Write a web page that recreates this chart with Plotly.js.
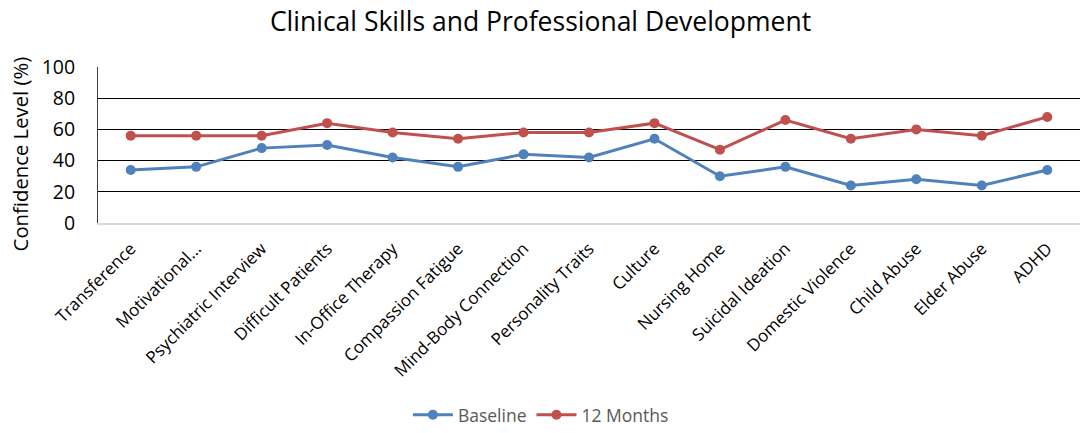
<!DOCTYPE html>
<html><head><meta charset="utf-8">
<script src="https://cdn.plot.ly/plotly-3.0.1.min.js"></script>
<style>html,body{margin:0;padding:0;background:#fff}#chart{width:1081px;height:433px}</style>
</head><body><div id="chart"></div>
<script>
const categories = ["Transference","Motivational...","Psychiatric Interview","Difficult Patients","In-Office Therapy","Compassion Fatigue","Mind-Body Connection","Personality Traits","Culture","Nursing Home","Suicidal Ideation","Domestic Violence","Child Abuse","Elder Abuse","ADHD"];
const baseline = [34,36,48,50,42,36,44,42,54,30,36,24,28,24,34];
const months12 = [56,56,56,64,58,54,58,58,64,47,66,54,60,56,68];
const yTicks = [0,20,40,60,80,100];

const font = "'Open Sans', sans-serif";
const traces = [
  {x: categories, y: baseline, name: "Baseline", type: "scatter", mode: "lines+markers",
   line: {color: "#4F81BD", width: 3}, marker: {color: "#4F81BD", size: 10}},
  {x: categories, y: months12, name: "12 Months", type: "scatter", mode: "lines+markers",
   line: {color: "#C0504D", width: 3}, marker: {color: "#C0504D", size: 10}}
];
const layout = {
  width: 1081, height: 433,
  margin: {l: 98, r: 1, t: 67, b: 207},
  paper_bgcolor: "#fff", plot_bgcolor: "#fff",
  font: {family: font, color: "#000"},
  title: {text: "Clinical Skills and Professional Development", font: {family: font, size: 26.5, color: "#000"}, x: 0.5, xanchor: "center", y: 0.95, yanchor: "middle"},
  xaxis: {type: "category", range: [-0.5, 14.5], tickangle: -45, tickfont: {family: font, size: 17, color: "#000"},
    showline: true, linecolor: "#d9d9d9", linewidth: 2, showgrid: false, ticks: "", fixedrange: true, ticklabelstandoff: 7},
  yaxis: {range: [0, 100], tickvals: yTicks, ticktext: yTicks.map(String), tickfont: {family: font, size: 19.5, color: "#000"},
    showgrid: true, gridcolor: "#000", gridwidth: 1, showline: true, linecolor: "#404040", linewidth: 1,
    zeroline: false, ticks: "", ticklen: 0, ticklabelstandoff: 18},
  annotations: [{text: "Confidence Level (%)", textangle: -90, xref: "paper", yref: "paper",
    x: -0.0794, y: 0.44, xanchor: "center", yanchor: "middle", showarrow: false,
    font: {family: font, size: 20.3, color: "#000"}}],
  showlegend: true,
  legend: {orientation: "h", x: 0.451, xanchor: "center", y: -1.23, yanchor: "middle",
    font: {family: font, size: 17.5, color: "#595959"}, itemwidth: 40}
};
Plotly.newPlot("chart", traces, layout, {displayModeBar: false, staticPlot: true});
</script></body></html>
